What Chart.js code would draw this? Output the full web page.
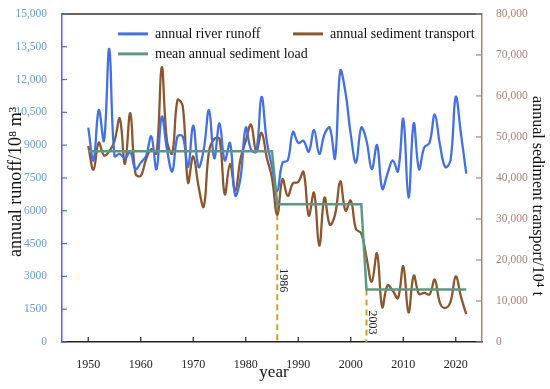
<!DOCTYPE html>
<html>
<head>
<meta charset="utf-8">
<script src="https://cdn.jsdelivr.net/npm/chart.js@4.4.1/dist/chart.umd.min.js"></script>
<style>
  html, body { margin: 0; padding: 0; background: #ffffff; }
  #wrap { width: 550px; height: 389px; position: relative; }
</style>
</head>
<body>
<div id="wrap"><canvas id="c"></canvas></div>
<script>
// ---------------- DATA ----------------
const years = [1950,1951,1952,1953,1954,1955,1956,1957,1958,1959,
  1960,1961,1962,1963,1964,1965,1966,1967,1968,1969,
  1970,1971,1972,1973,1974,1975,1976,1977,1978,1979,
  1980,1981,1982,1983,1984,1985,1986,1987,1988,1989,
  1990,1991,1992,1993,1994,1995,1996,1997,1998,1999,
  2000,2001,2002,2003,2004,2005,2006,2007,2008,2009,
  2010,2011,2012,2013,2014,2015,2016,2017,2018,2019,
  2020,2021,2022];

const runoff = [9800,8300,10600,9200,13400,8500,8600,8400,8700,7900,
  8200,8500,9400,7900,10300,8800,7800,9400,9400,8000,
  9900,8000,8800,10600,8400,10000,8300,9100,6700,7500,
  9800,8800,8700,11200,9200,8000,6900,8200,8300,9600,
  9100,9200,8700,9700,8600,9500,9800,8400,12400,11400,
  9500,8200,9800,9200,7900,9000,7000,7700,8300,7800,
  10200,6600,10000,7900,8900,9100,10400,9000,8000,8300,
  11200,9500,7700];

const sediment = [47800,42000,48600,45500,46500,49000,54500,43400,55800,41000,
  40500,44500,47000,46000,67000,49000,46000,59000,57500,38900,
  45300,38000,33000,46500,49500,49500,36000,43400,36800,44600,
  49000,53000,46500,51000,45000,40000,31000,39700,35600,38700,
  39000,41500,30800,36400,23500,35200,28600,31000,39200,32000,
  34500,27500,26500,20600,14700,21600,8500,13800,12500,10700,
  18500,7200,16200,11700,12000,11600,15200,9500,8300,9800,
  16000,11000,6800];

// mean annual sediment load per period: [startYear, endYear, mean]
const meanStart = [1950, 1986, 2003];
const meanEnd   = [1985, 2002, 2022];
const meanValue = [46500, 33600, 12800];

// break years (dashed markers)
const breakYears = [1986, 2003];
const breakLabels = ['1986', '2003'];

// tick values and labels
const xTicks = [1950,1960,1970,1980,1990,2000,2010,2020];
const yTicks = [0,1500,3000,4500,6000,7500,9000,10500,12000,13500,15000];
const yTickLabels = ['0','1500','3000','4500','6000','7500','9000','10,500','12,000','13,500','15,000'];
const y1Ticks = [0,10000,20000,30000,40000,50000,60000,70000,80000];
const y1TickLabels = ['0','10,000','20,000','30,000','40,000','50,000','60,000','70,000','80,000'];

const seriesNames = ['annual river runoff', 'annual sediment transport', 'mean annual sediment load'];
const xTitle = 'year';
const yTitle = 'annual runoff/10\u2078 m\u00b3';
const y1Title = 'annual sediment transport/10\u2074 t';

// ---------------- STYLE ----------------
const FONT = "'Liberation Serif', 'Times New Roman', 'DejaVu Serif', serif";
const C_BLUE = '#4470e0';
const C_BROWN = '#8b5630';
const C_GREEN = '#5f9880';
const C_DASH = '#c9a22c';
const C_LEFT = '#6a9cc4';
const C_RIGHT = '#a8847a';

// build points
const runoffPts = years.map((yr, i) => ({x: yr, y: runoff[i]}));
const sedPts = years.map((yr, i) => ({x: yr, y: sediment[i]}));
const meanPts = [];
meanStart.forEach((s, i) => { meanPts.push({x: s, y: meanValue[i]}); meanPts.push({x: meanEnd[i], y: meanValue[i]}); });
const breakTops = breakYears.map(yr => { const k = meanStart.indexOf(yr); return meanValue[k]; });

const overlay = {
  id: 'overlay',
  beforeDatasetsDraw(chart) {
    const {ctx, chartArea: a, scales: {x, y1}} = chart;
    ctx.save();
    ctx.setLineDash([6, 4]);
    ctx.strokeStyle = C_DASH;
    ctx.lineWidth = 2;
    breakYears.forEach((yr, i) => {
      const px = x.getPixelForValue(yr);
      const top = y1.getPixelForValue(breakTops[i]);
      ctx.beginPath(); ctx.moveTo(px, top); ctx.lineTo(px, a.bottom); ctx.stroke();
    });
    ctx.restore();
  },
  afterDraw(chart) {
    const {ctx, chartArea: a, scales: {x, y, y1}} = chart;
    ctx.save();
    // top frame line
    ctx.strokeStyle = '#333'; ctx.lineWidth = 1.5;
    ctx.beginPath(); ctx.moveTo(a.left, a.top); ctx.lineTo(a.right, a.top); ctx.stroke();
    // inward ticks
    ctx.lineWidth = 1.2;
    ctx.strokeStyle = '#222';
    xTicks.forEach(v => { const p = x.getPixelForValue(v); ctx.beginPath(); ctx.moveTo(p, a.bottom); ctx.lineTo(p, a.bottom - 5); ctx.stroke(); });
    ctx.strokeStyle = C_BLUE;
    yTicks.forEach(v => { const p = y.getPixelForValue(v); ctx.beginPath(); ctx.moveTo(a.left, p); ctx.lineTo(a.left + 5, p); ctx.stroke(); });
    ctx.strokeStyle = C_RIGHT;
    y1Ticks.forEach(v => { const p = y1.getPixelForValue(v); ctx.beginPath(); ctx.moveTo(a.right, p); ctx.lineTo(a.right - 6, p); ctx.stroke(); });
    // break labels (rotated)
    ctx.fillStyle = '#222';
    ctx.font = '12px ' + FONT;
    ctx.textAlign = 'left'; ctx.textBaseline = 'middle';
    const labelTop = [y1.getPixelForValue(18000), y1.getPixelForValue(7700)];
    breakYears.forEach((yr, i) => {
      const px = x.getPixelForValue(yr) + 6;
      ctx.save();
      ctx.translate(px, labelTop[i]);
      ctx.rotate(Math.PI / 2);
      ctx.fillText(breakLabels[i], 0, 0);
      ctx.restore();
    });
    // axis titles
    ctx.fillStyle = '#111';
    ctx.textAlign = 'center'; ctx.textBaseline = 'middle';
    ctx.font = '18px ' + FONT;
    ctx.save(); ctx.translate(16, (a.top + a.bottom) / 2 + 4); ctx.rotate(-Math.PI / 2); ctx.fillText(yTitle, 0, 0); ctx.restore();
    ctx.font = '16px ' + FONT;
    ctx.save(); ctx.translate(a.right + 55, (a.top + a.bottom) / 2 + 18); ctx.rotate(Math.PI / 2); ctx.fillText(y1Title, 0, 0); ctx.restore();
    ctx.font = '17px ' + FONT;
    ctx.fillText(xTitle, (a.left + a.right) / 2 + 2, a.bottom + 31);
    // legend
    ctx.font = '14px ' + FONT;
    ctx.fillStyle = '#111';
    ctx.textAlign = 'left';
    ctx.textBaseline = 'middle';
    ctx.lineWidth = 3;
    const items = [
      {c: C_BLUE, t: seriesNames[0], x: a.left + 56, y: a.top + 20},
      {c: C_BROWN, t: seriesNames[1], x: a.left + 231, y: a.top + 20},
      {c: C_GREEN, t: seriesNames[2], x: a.left + 56, y: a.top + 40}
    ];
    items.forEach(it => {
      ctx.strokeStyle = it.c;
      ctx.beginPath(); ctx.moveTo(it.x, it.y); ctx.lineTo(it.x + 30, it.y); ctx.stroke();
      ctx.fillText(it.t, it.x + 37, it.y);
    });
    ctx.restore();
  }
};

new Chart(document.getElementById('c'), {
  type: 'line',
  data: {
    datasets: [
      { label: seriesNames[2], data: meanPts, yAxisID: 'y1', borderColor: C_GREEN, borderWidth: 2.5, pointRadius: 0, tension: 0, order: 0 },
      { label: seriesNames[0], data: runoffPts, yAxisID: 'y', borderColor: C_BLUE, borderWidth: 2.3, pointRadius: 0, tension: 0.4, order: 1 },
      { label: seriesNames[1], data: sedPts, yAxisID: 'y1', borderColor: C_BROWN, borderWidth: 2.3, pointRadius: 0, tension: 0.4, order: 2 }
    ]
  },
  options: {
    responsive: true,
    maintainAspectRatio: false,
    animation: false,
    layout: { padding: { top: 12, left: 0, right: 0, bottom: 0 } },
    plugins: { legend: { display: false }, tooltip: { enabled: false } },
    scales: {
      x: {
        type: 'linear', min: 1945, max: 2025,
        afterBuildTicks: s => { s.ticks = xTicks.map(v => ({value: v})); },
        afterFit: s => { s.height = 47; },
        grid: { display: false },
        border: { display: true, color: '#222', width: 1.5 },
        ticks: { padding: 8, color: '#222', font: { family: FONT, size: 12 }, callback: v => String(v), maxRotation: 0, autoSkip: false },
        title: { display: false }
      },
      y: {
        type: 'linear', position: 'left', min: 0, max: 15000,
        afterBuildTicks: s => { s.ticks = yTicks.map(v => ({value: v})); },
        afterFit: s => { s.width = 62; },
        grid: { display: false },
        border: { display: true, color: C_BLUE, width: 1.5 },
        ticks: { padding: 7, color: C_LEFT, font: { family: FONT, size: 11.5 }, callback: (v) => yTickLabels[yTicks.indexOf(v)], autoSkip: false },
        title: { display: false }
      },
      y1: {
        type: 'linear', position: 'right', min: 0, max: 80000,
        afterBuildTicks: s => { s.ticks = y1Ticks.map(v => ({value: v})); },
        afterFit: s => { s.width = 68; },
        grid: { display: false },
        border: { display: true, color: C_RIGHT, width: 1.5 },
        ticks: { padding: 6, color: C_RIGHT, font: { family: FONT, size: 11.5 }, callback: (v) => y1TickLabels[y1Ticks.indexOf(v)], autoSkip: false },
        title: { display: false }
      }
    }
  },
  plugins: [overlay]
});
</script>
</body>
</html>
